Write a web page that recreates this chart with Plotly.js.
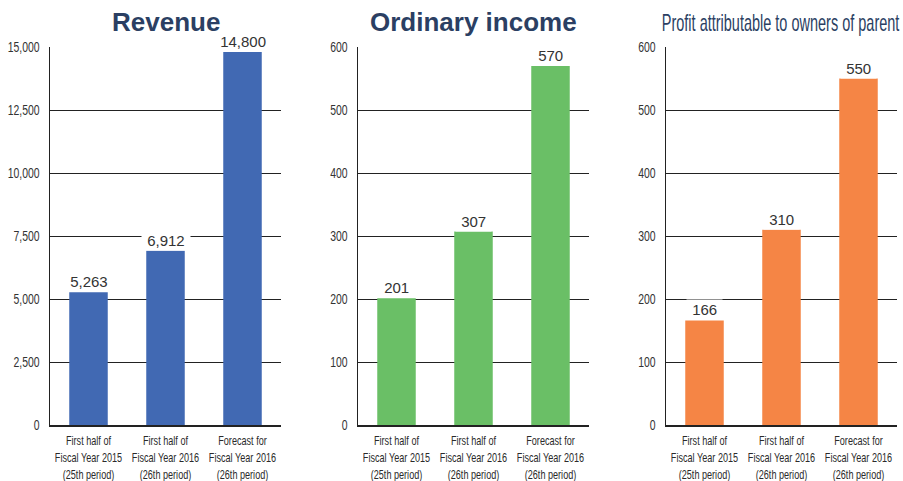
<!DOCTYPE html>
<html>
<head>
<meta charset="utf-8">
<script src="https://cdn.plot.ly/plotly-3.0.1.min.js"></script>
<style>html,body{margin:0;padding:0;background:#fff;}#chart{width:903px;height:481px;}</style>
</head>
<body>
<div id="chart"></div>
<script>
const categories = ["First half of<br>Fiscal Year 2015<br>(25th period)", "First half of<br>Fiscal Year 2016<br>(26th period)", "Forecast for<br>Fiscal Year 2016<br>(26th period)"];
const revenue = [5263, 6912, 14800];
const ordinaryIncome = [201, 307, 570];
const profitParent = [166, 310, 550];
const revenueTicks = [0, 2500, 5000, 7500, 10000, 12500, 15000];
const incomeTicks = [0, 100, 200, 300, 400, 500, 600];
const titles = ["Revenue", "Ordinary income", "Profit attributable to owners of parent"];

const W = 903, H = 481;
const regular = "'Liberation Sans', Arial, sans-serif";
const colors = ["#4169b3", "#6abf66", "#f58545"];
const series = [revenue, ordinaryIncome, profitParent];
const xDomains = [[50, 281], [358, 589], [666, 897]];
const yDom = [1 - 425 / H, 1 - 47 / H];

const traces = [];
const layout = {
  width: W, height: H,
  margin: {l: 0, r: 0, t: 0, b: 0},
  paper_bgcolor: "#fff", plot_bgcolor: "#fff",
  showlegend: false,
  annotations: [],
  font: {family: regular, color: "#333", size: 13}
};

series.forEach((vals, i) => {
  const xa = i === 0 ? "x" : "x" + (i + 1);
  const ya = i === 0 ? "y" : "y" + (i + 1);
  traces.push({
    type: "bar", x: categories, y: vals, xaxis: xa, yaxis: ya,
    marker: {color: colors[i], line: {width: 0}}, width: 0.5, hoverinfo: "none"
  });
  const ticks = i === 0 ? revenueTicks : incomeTicks;
  const key = i === 0 ? "" : String(i + 1);
  layout["xaxis" + key] = {
    domain: [xDomains[i][0] / W, xDomains[i][1] / W],
    anchor: ya,
    showline: true, linecolor: "#222", linewidth: 1.5,
    showgrid: false, ticks: "", tickangle: 0,
    ticklabelstandoff: 3,
    tickfont: {family: regular, size: 13, color: "#2a2a2a"},
    fixedrange: true
  };
  layout["yaxis" + key] = {
    domain: yDom, anchor: xa,
    range: [0, ticks[ticks.length - 1]],
    tickvals: ticks,
    ticktext: ticks.map(v => v.toLocaleString("en-US")),
    showline: true, linecolor: "#222", linewidth: 1.5,
    showgrid: true, gridcolor: "#222", gridwidth: 1,
    zeroline: false, ticks: "",
    ticklabelstandoff: 6,
    tickfont: {family: regular, size: 14.5, color: "#333"},
    fixedrange: true
  };
  vals.forEach((v, j) => {
    layout.annotations.push({
      xref: xa, yref: ya, x: categories[j], y: v,
      text: "\u00a0" + v.toLocaleString("en-US") + "\u00a0", showarrow: false,
      yanchor: "bottom", yshift: 0,
      bgcolor: "#fff", borderpad: 1,
      font: {family: regular, size: 15, color: "#333"}
    });
  });
  const cx = (xDomains[i][0] + xDomains[i][1]) / 2 / W;
  layout.annotations.push({
    xref: "paper", yref: "paper", x: i === 2 ? 781 / W : cx, y: 1 - (i === 2 ? 23 : 22) / H,
    text: titles[i], showarrow: false, xanchor: "center", yanchor: "middle",
    font: i === 2 ? {family: regular, size: 23, color: "#2b3f63"} : {family: regular, size: 26, color: "#2b3f63", weight: "bold"}
  });
});

function condense(nodes, k) {
  nodes.forEach(t => {
    const x = parseFloat(t.getAttribute("x")) || 0;
    const tr = t.getAttribute("transform") || "";
    t.setAttribute("transform", tr + " translate(" + x + ",0) scale(" + k + ",1) translate(" + (-x) + ",0)");
  });
}

Plotly.newPlot("chart", traces, layout, {staticPlot: true}).then(gd => {
  condense(gd.querySelectorAll("g.xaxislayer-above text"), 0.70);
  condense(gd.querySelectorAll("g.yaxislayer-above text"), 0.72);
  const ann = Array.from(gd.querySelectorAll("text.annotation-text")).filter(t => t.textContent.indexOf("Profit") === 0);
  condense(ann, 0.63);
});
</script>
</body>
</html>
